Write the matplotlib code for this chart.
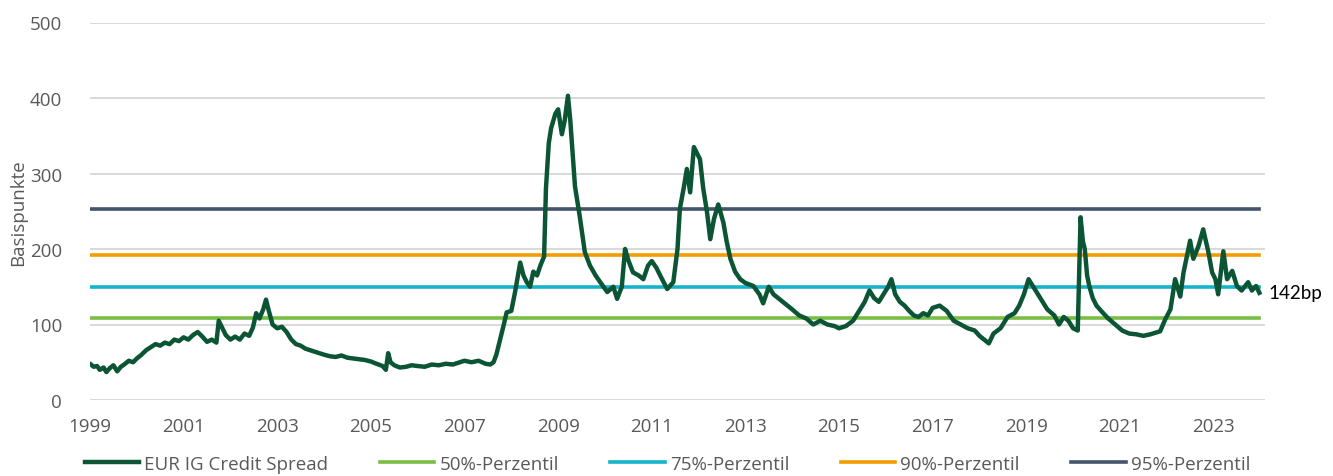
import matplotlib
matplotlib.use("Agg")
import matplotlib.pyplot as plt

# EUR IG Credit Spread (bp), decimal years
jahre = [
    1999.02, 1999.08, 1999.15, 1999.21, 1999.29, 1999.35, 1999.42, 1999.50, 1999.58, 1999.66, 1999.75, 1999.83, 1999.92,
    2000.00, 2000.10, 2000.20, 2000.30, 2000.40, 2000.50, 2000.60, 2000.70, 2000.80, 2000.90,
    2001.00, 2001.10, 2001.20, 2001.30, 2001.40, 2001.50, 2001.60, 2001.70, 2001.75, 2001.82, 2001.90,
    2002.00, 2002.10, 2002.20, 2002.30, 2002.40, 2002.48, 2002.55, 2002.62, 2002.70, 2002.76, 2002.82, 2002.90,
    2003.00, 2003.10, 2003.20, 2003.30, 2003.40, 2003.50, 2003.60, 2003.70, 2003.80, 2003.90,
    2004.00, 2004.12, 2004.25, 2004.37, 2004.50, 2004.62, 2004.75, 2004.87,
    2005.00, 2005.12, 2005.25, 2005.32, 2005.37, 2005.42, 2005.50, 2005.62, 2005.75, 2005.87,
    2006.00, 2006.15, 2006.30, 2006.45, 2006.60, 2006.75, 2006.90,
    2007.00, 2007.15, 2007.30, 2007.45, 2007.55, 2007.62, 2007.68, 2007.76, 2007.84, 2007.90,
    2008.00, 2008.08, 2008.19, 2008.26, 2008.33, 2008.40, 2008.47, 2008.55, 2008.62, 2008.70, 2008.74, 2008.80, 2008.85,
    2008.94, 2009.00, 2009.08, 2009.14, 2009.21, 2009.26, 2009.36, 2009.46, 2009.57, 2009.68, 2009.80, 2009.90,
    2010.05, 2010.18, 2010.26, 2010.36, 2010.43, 2010.50, 2010.60, 2010.72, 2010.82, 2010.92, 2011.00, 2011.10,
    2011.18, 2011.33, 2011.46, 2011.55, 2011.60, 2011.68, 2011.75, 2011.82, 2011.90, 2012.03, 2012.10, 2012.18,
    2012.25, 2012.33, 2012.42, 2012.53, 2012.60, 2012.68, 2012.78, 2012.89, 2013.00, 2013.17, 2013.30, 2013.38,
    2013.50, 2013.60, 2013.70, 2013.80, 2013.90, 2014.00, 2014.15, 2014.30, 2014.45, 2014.60, 2014.75, 2014.90,
    2015.00, 2015.15, 2015.30, 2015.45, 2015.55, 2015.65, 2015.75, 2015.85, 2015.95, 2016.05, 2016.12, 2016.20,
    2016.30, 2016.40, 2016.50, 2016.60, 2016.70, 2016.80, 2016.90, 2017.00, 2017.15, 2017.30, 2017.45, 2017.60,
    2017.75, 2017.90, 2018.00, 2018.10, 2018.20, 2018.30, 2018.45, 2018.60, 2018.75, 2018.85, 2018.95, 2019.05,
    2019.15, 2019.30, 2019.45, 2019.60, 2019.70, 2019.80, 2019.90, 2020.00, 2020.10, 2020.16, 2020.21, 2020.25,
    2020.30, 2020.35, 2020.42, 2020.50, 2020.60, 2020.75, 2020.90, 2021.05, 2021.20, 2021.35, 2021.50, 2021.65,
    2021.86, 2021.97, 2022.08, 2022.18, 2022.29, 2022.36, 2022.50, 2022.57, 2022.68, 2022.78, 2022.89, 2022.97,
    2023.04, 2023.10, 2023.21, 2023.29, 2023.40, 2023.50, 2023.60, 2023.74, 2023.82, 2023.91, 2023.98,
]
spread = [
    47, 44, 45, 40, 43, 37, 42, 46, 38, 44, 48, 52, 50,
    55, 60, 66, 70, 74, 72, 76, 74, 80, 78,
    83, 80, 86, 90, 84, 77, 80, 76, 105, 96, 86,
    80, 84, 80, 88, 85, 96, 115, 108, 120, 133, 118, 100,
    95, 97, 90, 80, 74, 72, 68, 66, 64, 62,
    60, 58, 57, 59, 56, 55, 54, 53,
    51, 48, 45, 40, 62, 50, 46, 43, 44, 46,
    45, 44, 47, 46, 48, 47, 50,
    52, 50, 52, 48, 47, 50, 60, 80, 100, 116,
    118, 143, 182, 165, 156, 150, 170, 165, 178, 190, 280, 340, 360,
    379, 385, 352, 370, 403, 370, 283, 244, 196, 178, 165, 156,
    143, 150, 134, 150, 200, 185, 169, 165, 160, 178, 184, 175,
    165, 147, 156, 200, 253, 280, 306, 275, 335, 319, 280, 249,
    213, 240, 259, 235, 210, 187, 170, 160, 155, 151, 140, 128,
    150, 140, 135, 130, 125, 120, 112, 108, 100, 105, 100, 98,
    95, 98, 105, 120, 130, 145, 135, 130, 140, 150, 160, 140,
    130, 125, 118, 112, 110, 115, 112, 122, 125, 118, 105, 100,
    95, 92, 85, 80, 75, 88, 95, 110, 115, 125, 140, 160,
    150, 135, 120, 112, 100, 110, 105, 95, 92, 242, 210, 200,
    165, 150, 135, 125, 118, 108, 100, 92, 88, 87, 85, 87,
    91, 107, 120, 160, 137, 169, 211, 187, 204, 226, 196, 169,
    160, 140, 197, 160, 171, 151, 145, 156, 145, 151, 142,
]

# Perzentile (bp)
p50 = 108
p75 = 150
p90 = 192
p95 = 253
letzter_wert = "142bp"

plt.rcParams['font.family'] = ['Open Sans', 'DejaVu Sans']
grau = '#595959'

fig = plt.figure(figsize=(13.33, 4.77), dpi=100)
ax = fig.add_axes([90 / 1333, 1 - 401 / 477, (1265 - 90) / 1333, (401 - 23.5) / 477])

x0, x1 = jahre[0] - 0.02, jahre[-1]
ax.plot([x0, x1], [p50, p50], color='#78BE45', lw=2.6, label='50%-Perzentil', zorder=3)
ax.plot([x0, x1], [p75, p75], color='#14B4CC', lw=2.6, label='75%-Perzentil', zorder=3)
ax.plot([x0, x1], [p90, p90], color='#F39C00', lw=2.6, label='90%-Perzentil', zorder=3)
ax.plot([x0, x1], [p95, p95], color='#44546A', lw=2.6, label='95%-Perzentil', zorder=3)
ax.plot(jahre, spread, color='#0B5535', lw=3.2, label='EUR IG Credit Spread', zorder=4,
        solid_joinstyle='round')

ax.text(x1 + 0.2, spread[-1], letzter_wert, fontsize=13.5, family=['Lato', 'DejaVu Sans'],
        color='black', va='center', ha='left')

ax.set_xlim(1999.0, 2024.1)
ax.set_ylim(0, 500)
ax.set_yticks(range(0, 501, 100))
ax.set_xticks(range(1999, 2024, 2))
ax.grid(axis='y', color='#D9D9D9', lw=1.4)
ax.set_axisbelow(True)
for s in ax.spines.values():
    s.set_visible(False)
ax.tick_params(length=0, labelsize=13.5, labelcolor=grau)
ax.tick_params(axis='y', pad=20)
ax.tick_params(axis='x', pad=12)
ax.set_ylabel('Basispunkte', fontsize=13.5, color=grau, labelpad=2)

h, l = ax.get_legend_handles_labels()
order = [4, 0, 1, 2, 3]
fig.legend([h[i] for i in order], [l[i] for i in order], ncol=5, frameon=False,
           loc='center left', bbox_to_anchor=(85 / 1333, 1 - 465 / 477),
           fontsize=13.5, labelcolor=grau, handlelength=2.9, handletextpad=0.27,
           columnspacing=2.75, borderpad=0, borderaxespad=0)

fig.savefig('out.png', dpi=100)
